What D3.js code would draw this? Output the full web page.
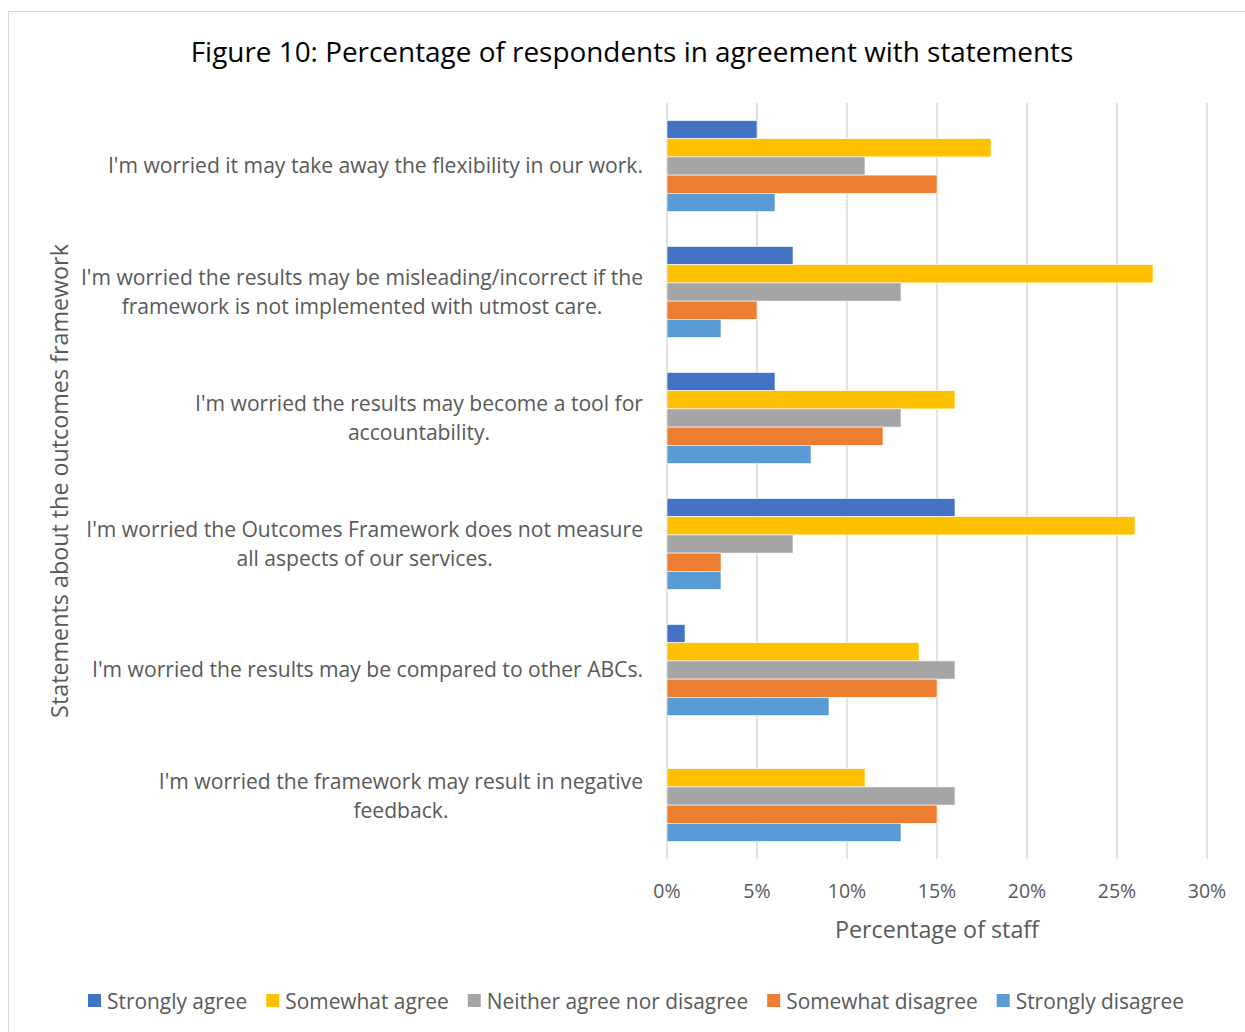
<!DOCTYPE html>
<html>
<head>
<meta charset="utf-8">
<script src="https://cdn.jsdelivr.net/npm/d3@7"></script>
<style>
  html, body { margin: 0; padding: 0; background: #fff; }
  svg { display: block; }
  text { font-family: "Open Sans", Lato, sans-serif; }
</style>
</head>
<body>
<svg id="chart" width="1245" height="1032"></svg>
<script>
// Statements (each entry is a list of wrapped lines)
const statements = [
  ["I'm worried it may take away the flexibility in our work."],
  ["I'm worried the results may be misleading/incorrect if the", "framework is not implemented with utmost care."],
  ["I'm worried the results may become a tool for", "accountability."],
  ["I'm worried the Outcomes Framework does not measure", "all aspects of our services."],
  ["I'm worried the results may be compared to other ABCs."],
  ["I'm worried the framework may result in negative", "feedback."]
];
const seriesNames = ["Strongly agree", "Somewhat agree", "Neither agree nor disagree", "Somewhat disagree", "Strongly disagree"];
const seriesColors = ["#4472C4", "#FFC000", "#A5A5A5", "#ED7D31", "#5B9BD5"];

// Share of staff (%) per statement, one array per response
const stronglyAgree    = [5, 7, 6, 16, 1, 0];
const somewhatAgree    = [18, 27, 16, 26, 14, 11];
const neither          = [11, 13, 13, 7, 16, 16];
const somewhatDisagree = [15, 5, 12, 3, 15, 15];
const stronglyDisagree = [6, 3, 8, 3, 9, 13];
const seriesValues = [stronglyAgree, somewhatAgree, neither, somewhatDisagree, stronglyDisagree];

const xTicks = [0, 5, 10, 15, 20, 25, 30];

const svg = d3.select("#chart");
const plot = { left: 667, right: 1207, top: 103, bottom: 859 };
const textGrey = "#595959";

// chart frame
svg.append("rect")
  .attr("x", 8.5).attr("y", 11.5)
  .attr("width", 1260).attr("height", 1040)
  .attr("fill", "#fff").attr("stroke", "#D9D9D9").attr("stroke-width", 1);

const x = d3.scaleLinear().domain([0, 30]).range([plot.left, plot.right]);
const y = d3.scaleBand().domain(d3.range(statements.length))
  .range([plot.top, plot.bottom]).paddingInner(0.278).paddingOuter(0.139);
const ySeries = d3.scaleBand().domain(d3.range(seriesNames.length))
  .range([0, y.bandwidth()]);

// vertical gridlines
svg.append("g").selectAll("line").data(xTicks).join("line")
  .attr("x1", d => x(d)).attr("x2", d => x(d))
  .attr("y1", plot.top).attr("y2", plot.bottom)
  .attr("stroke", "#D9D9D9").attr("stroke-width", 1.5);

// bars
const groups = svg.append("g").selectAll("g").data(statements).join("g")
  .attr("transform", (d, i) => `translate(0,${y(i)})`);
groups.selectAll("rect")
  .data((d, i) => seriesValues.map((vals, s) => ({ s, v: vals[i] })))
  .join("rect")
  .attr("x", x(0))
  .attr("y", d => ySeries(d.s))
  .attr("width", d => x(d.v) - x(0))
  .attr("height", ySeries.bandwidth())
  .attr("fill", d => seriesColors[d.s])
  .attr("stroke", "#fff").attr("stroke-width", 0.6)
  .attr("display", d => d.v > 0 ? null : "none");

// x tick labels
svg.append("g").selectAll("text").data(xTicks).join("text")
  .attr("x", d => x(d)).attr("y", 898)
  .attr("text-anchor", "middle")
  .attr("font-size", 19.5).attr("fill", textGrey)
  .text(d => d + "%");

// x axis title
svg.append("text")
  .attr("x", (plot.left + plot.right) / 2).attr("y", 938)
  .attr("text-anchor", "middle").attr("font-size", 23.3).attr("fill", textGrey)
  .text("Percentage of staff");

// y axis title
svg.append("text")
  .attr("transform", `translate(68,${(plot.top + plot.bottom) / 2}) rotate(-90)`)
  .attr("text-anchor", "middle").attr("font-size", 23.3).attr("fill", textGrey)
  .text("Statements about the outcomes framework");

// category labels: centred lines, block right-aligned to the axis
const labelRight = 643;
const lineGap = 29;
statements.forEach((lines, i) => {
  const cy = y(i) + y.bandwidth() / 2;
  const t = svg.append("text")
    .attr("font-size", 21.1).attr("fill", textGrey).attr("text-anchor", "middle");
  const spans = lines.map((ln, k) => t.append("tspan")
    .attr("y", cy + 7 + (k - (lines.length - 1) / 2) * lineGap)
    .text(ln));
  const maxW = d3.max(spans, sp => sp.node().getComputedTextLength());
  spans.forEach(sp => sp.attr("x", labelRight - maxW / 2));
});

// title
svg.append("text")
  .attr("x", 632).attr("y", 62)
  .attr("text-anchor", "middle").attr("font-size", 27.9).attr("fill", "#000")
  .text("Figure 10: Percentage of respondents in agreement with statements");

// legend
const legend = svg.append("g");
let cursor = 0;
seriesNames.forEach((name, i) => {
  const item = legend.append("g").attr("transform", `translate(${cursor},0)`);
  item.append("rect").attr("x", 0).attr("y", -7).attr("width", 13).attr("height", 13)
    .attr("fill", seriesColors[i]);
  const t = item.append("text").attr("x", 19).attr("y", 7.5)
    .attr("font-size", 20.9).attr("fill", textGrey).text(name);
  cursor += 19 + t.node().getComputedTextLength() + 19;
});
const legendW = cursor - 19;
legend.attr("transform", `translate(${636 - legendW / 2},1001)`);
</script>
</body>
</html>
